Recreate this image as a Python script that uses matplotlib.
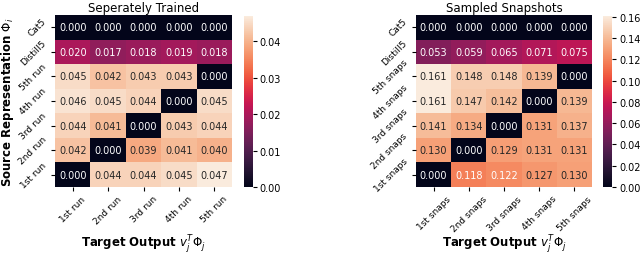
import matplotlib
matplotlib.use("Agg")
import matplotlib.pyplot as plt
import numpy as np
import seaborn as sns
from matplotlib.ticker import MultipleLocator

row_runs = ["Cat5", "Distill5", "5th run", "4th run", "3rd run", "2nd run", "1st run"]
col_runs = ["1st run", "2nd run", "3rd run", "4th run", "5th run"]
vals_runs = np.array([
    [0.000, 0.000, 0.000, 0.000, 0.000],
    [0.020, 0.017, 0.018, 0.019, 0.018],
    [0.045, 0.042, 0.043, 0.043, 0.000],
    [0.046, 0.045, 0.044, 0.000, 0.045],
    [0.044, 0.041, 0.000, 0.043, 0.044],
    [0.042, 0.000, 0.039, 0.041, 0.040],
    [0.000, 0.044, 0.044, 0.045, 0.047],
])

row_snaps = ["Cat5", "Distill5", "5th snaps", "4th snaps", "3rd snaps", "2nd snaps", "1st snaps"]
col_snaps = ["1st snaps", "2nd snaps", "3rd snaps", "4th snaps", "5th snaps"]
vals_snaps = np.array([
    [0.000, 0.000, 0.000, 0.000, 0.000],
    [0.053, 0.059, 0.065, 0.071, 0.075],
    [0.161, 0.148, 0.148, 0.139, 0.000],
    [0.161, 0.147, 0.142, 0.000, 0.139],
    [0.141, 0.134, 0.000, 0.131, 0.137],
    [0.130, 0.000, 0.129, 0.131, 0.131],
    [0.000, 0.118, 0.122, 0.127, 0.130],
])

fig = plt.figure(figsize=(6.4, 2.55), dpi=100)
ax1 = fig.add_axes([0.086, 0.263, 0.2766, 0.6745])
cax1 = fig.add_axes([0.381, 0.263, 0.014, 0.6705])
ax2 = fig.add_axes([0.650, 0.263, 0.275, 0.6745])
cax2 = fig.add_axes([0.942, 0.263, 0.015, 0.6705])

panels = [
    (ax1, cax1, vals_runs, row_runs, col_runs, "Seperately Trained", 0.01, -0.33),
    (ax2, cax2, vals_snaps, row_snaps, col_snaps, "Sampled Snapshots", 0.02, -0.33),
]
for ax, cax, vals, rows, cols, title, step, xl_y in panels:
    sns.heatmap(vals, ax=ax, cbar_ax=cax, annot=True, fmt=".3f",
                annot_kws={"fontsize": 7}, cmap="rocket",
                xticklabels=cols, yticklabels=rows)
    ax.set_title(title, fontsize=8.5, pad=3)
    ax.set_xticklabels(cols, rotation=45, fontsize=6.5, ha="center")
    ax.set_yticklabels(rows, rotation=45, fontsize=6.5, va="center")
    ax.tick_params(length=3, pad=2)
    ax.set_xlabel(r"Target Output $v_j^T\Phi_j$", fontsize=8.5,
                  fontweight="bold", va="center")
    ax.xaxis.set_label_coords(0.5, xl_y)
    cax.yaxis.set_major_locator(MultipleLocator(step))
    cax.tick_params(labelsize=7, length=3, pad=2)

ax1.set_ylabel(r"Source Representation $\Phi_i$", fontsize=8.5,
               fontweight="bold", va="center")
ax1.yaxis.set_label_coords(-0.266, 0.5)

fig.savefig("out.png", dpi=100)
